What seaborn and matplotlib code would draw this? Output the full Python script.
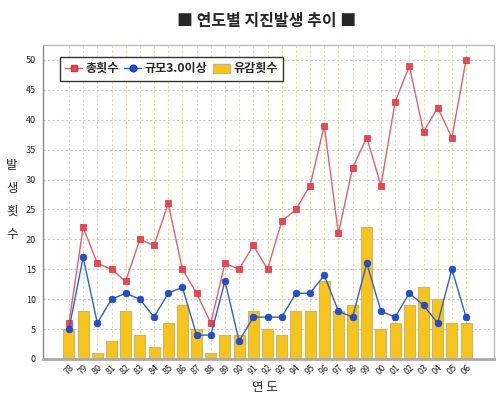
import numpy as np
import pandas as pd
import matplotlib
matplotlib.use('Agg')
import matplotlib.pyplot as plt
import seaborn as sns
from matplotlib.lines import Line2D
from matplotlib.patches import Patch

years = ['78','79','80','81','82','83','84','85','86','87','88','89','90','91','92',
         '93','94','95','96','97','98','99','00','01','02','03','04','05','06']
total = [6,22,16,15,13,20,19,26,15,11,6,16,15,19,15,23,25,29,39,21,32,37,29,43,49,38,42,37,50]
mag3 = [5,17,6,10,11,10,7,11,12,4,4,13,3,7,7,7,11,11,14,8,7,16,8,7,11,9,6,15,7]
felt = [5,8,1,3,8,4,2,6,9,5,1,4,4,8,5,4,8,8,13,8,9,22,5,6,9,12,10,6,6]

df = pd.DataFrame({'year': years, 'total': total, 'mag3': mag3, 'felt': felt})
df['idx'] = np.arange(len(df))

sns.set_style('white')
plt.rcParams['font.family'] = ['Noto Sans CJK KR', 'DejaVu Sans']

fig = plt.figure(figsize=(5, 4), dpi=100)
ax = fig.add_axes([0.086, 0.1025, 0.902, 0.785])

bar_c = '#F7C418'
red = '#E0606C'
red_m = '#F04450'
blue = '#3060C8'
blue_m = '#1F4FD8'

# vertical dotted grid at each year
for i in df['idx']:
    ax.axvline(i, color='#dfe0a0', lw=0.8, ls=(0, (2, 2)), zorder=0)
for v in range(5, 55, 5):
    ax.axhline(v, color='#cccccc', lw=0.8, ls=(0, (2, 2)), zorder=0)

sns.barplot(data=df, x='year', y='felt', color=bar_c, width=0.78,
            edgecolor='#c9b57a', linewidth=0.8, saturation=1, ax=ax, zorder=2)
sns.lineplot(data=df, x='idx', y='total', color=red, marker='s', markersize=4.5,
             markerfacecolor=red_m, markeredgecolor='#d8303c', markeredgewidth=0.5,
             lw=1, ax=ax, zorder=3)
sns.lineplot(data=df, x='idx', y='mag3', color=blue, marker='o', markersize=4.8,
             markerfacecolor=blue_m, markeredgecolor='#1a3fb0', markeredgewidth=0.5,
             lw=1, ax=ax, zorder=4)

ax.set_xlim(-1.83, 29.97)
ax.set_ylim(0, 52.5)
ax.set_yticks(range(0, 55, 5))
ax.set_xticks(df['idx'])
ax.set_xticklabels(years, rotation=45, fontsize=6.5)
ax.tick_params(axis='y', labelsize=6.5, length=3, width=0.6, color='#888888', pad=2)
ax.tick_params(axis='x', length=0, pad=3)
ax.set_xlabel('')
ax.set_ylabel('')

for s in ['left', 'right', 'top']:
    ax.spines[s].set_color('#bbbbbb')
    ax.spines[s].set_linewidth(1)
ax.spines['left'].set_color('#888888')
ax.spines['bottom'].set_color('#aaaaaa')
ax.spines['bottom'].set_linewidth(2)

handles = [
    Line2D([], [], color=red, marker='s', markersize=4.5, markerfacecolor=red_m,
           markeredgecolor='#d8303c', lw=1),
    Line2D([], [], color=blue, marker='o', markersize=4.8, markerfacecolor=blue_m,
           markeredgecolor='#1a3fb0', lw=1),
    Patch(facecolor=bar_c, edgecolor='#c9b57a'),
]
leg = ax.legend(handles, ['총횟수', '규모3.0이상', '유감횟수'], loc='upper left',
                bbox_to_anchor=(0.037, 0.962), ncol=3, fancybox=False, frameon=True,
                prop={'weight': 'bold', 'size': 8.7}, handlelength=1.4, handletextpad=0.25,
                columnspacing=0.5, borderpad=0.45, handleheight=0.8, borderaxespad=0)
leg.get_frame().set_edgecolor('black')
leg.get_frame().set_linewidth(1)

fig.text(0.534, 0.948, '■ 연도별 지진발생 추이 ■', ha='center', va='center',
         fontsize=11.5, fontweight='bold')
fig.text(0.024, 0.5, '발\n생\n횟\n수', ha='center', va='center', fontsize=9,
         linespacing=2.0)
fig.text(0.53, 0.03, '연 도', ha='center', va='center', fontsize=9)

fig.savefig('out.png', dpi=100)
